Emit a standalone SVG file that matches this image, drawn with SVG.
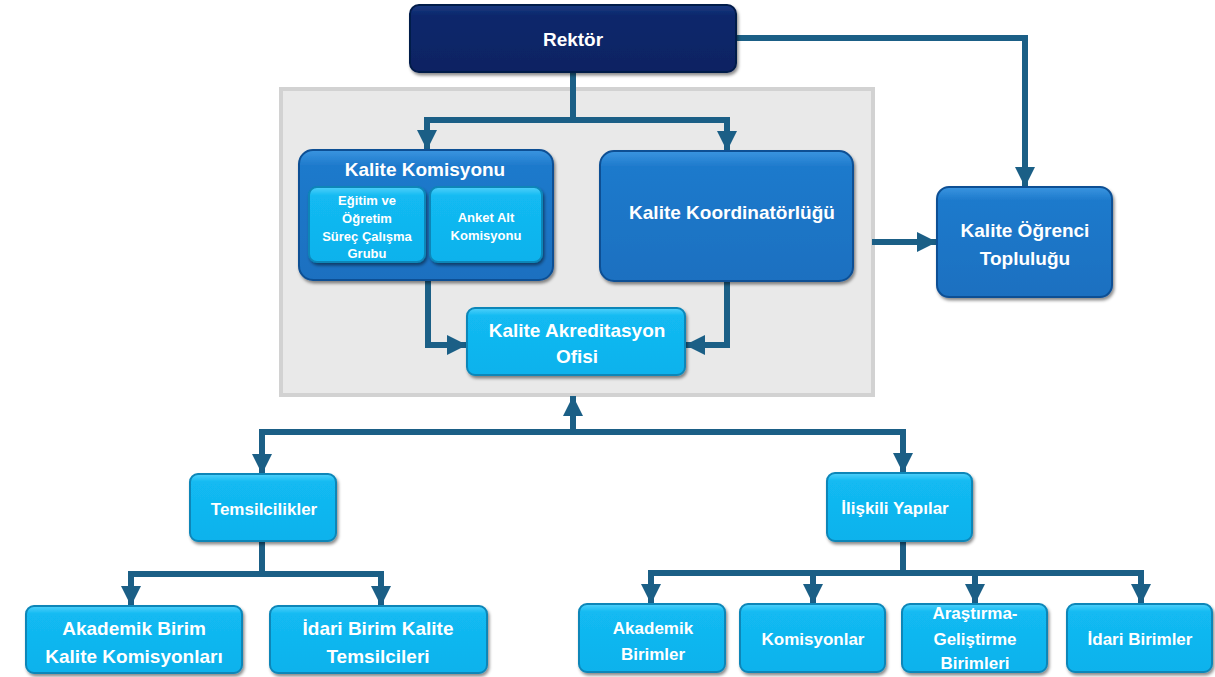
<svg xmlns="http://www.w3.org/2000/svg" width="1215" height="677" viewBox="0 0 1215 677">
<style>
text{font-family:"Liberation Sans",Arial,sans-serif;font-weight:bold;fill:#fff;text-anchor:middle}
.conn{fill:none;stroke:#1b5f86;stroke-width:6;stroke-linejoin:miter}
.navy{fill:url(#gNavy);stroke:#061a4a;stroke-width:2}
.mid{fill:url(#gMid);stroke:#0d4f94;stroke-width:2}
.cyan{fill:url(#gCyan);stroke:#0a86b8;stroke-width:2}
</style>
<defs>
<linearGradient id="gNavy" x1="0" y1="0" x2="0" y2="1"><stop offset="0" stop-color="#1a3a82"/><stop offset="0.15" stop-color="#0c286c"/><stop offset="1" stop-color="#0a2362"/></linearGradient>
<linearGradient id="gMid" x1="0" y1="0" x2="0" y2="1"><stop offset="0" stop-color="#3a95e0"/><stop offset="0.12" stop-color="#1e7acc"/><stop offset="1" stop-color="#1a70c0"/></linearGradient>
<linearGradient id="gCyan" x1="0" y1="0" x2="0" y2="1"><stop offset="0" stop-color="#4fd0fa"/><stop offset="0.12" stop-color="#12baf2"/><stop offset="1" stop-color="#0fb2ec"/></linearGradient>
<filter id="sh" x="-10%" y="-10%" width="125%" height="130%"><feDropShadow dx="1.5" dy="2.5" stdDeviation="1.5" flood-color="#000" flood-opacity="0.45"/></filter>
<marker id="ah" viewBox="0 0 10 10" refX="10" refY="5" markerWidth="20" markerHeight="22" markerUnits="userSpaceOnUse" orient="auto"><path d="M0,0 L10,5 L0,10 z" fill="#1b5f86"/></marker>
</defs>
<rect width="1215" height="677" fill="#fff"/>
<rect id="panel" x="281" y="89" width="592" height="306" fill="#e9e9e9" stroke="#d2d2d2" stroke-width="4"/>
<g id="connectors">
<path class="conn" d="M573,72 V120"/>
<path class="conn" d="M427,120 H727"/>
<path class="conn" d="M427,117 V150" marker-end="url(#ah)"/>
<path class="conn" d="M727,117 V151" marker-end="url(#ah)"/>
<path class="conn" d="M428,280 V345 H467" marker-end="url(#ah)"/>
<path class="conn" d="M727,281 V345 H685" marker-end="url(#ah)"/>
<path class="conn" d="M736,38 H1025 V187" marker-end="url(#ah)"/>
<path class="conn" d="M872,242 H937" marker-end="url(#ah)"/>
<path class="conn" d="M573,432 V396" marker-end="url(#ah)"/>
<path class="conn" d="M262,432 H903"/>
<path class="conn" d="M262,429 V474" marker-end="url(#ah)"/>
<path class="conn" d="M903,429 V473" marker-end="url(#ah)"/>
<path class="conn" d="M262,541 V574"/>
<path class="conn" d="M131,574 H381"/>
<path class="conn" d="M131,571 V606" marker-end="url(#ah)"/>
<path class="conn" d="M381,571 V606" marker-end="url(#ah)"/>
<path class="conn" d="M903,541 V573"/>
<path class="conn" d="M651,573 H1141"/>
<path class="conn" d="M651,570 V604" marker-end="url(#ah)"/>
<path class="conn" d="M813,570 V604" marker-end="url(#ah)"/>
<path class="conn" d="M975,570 V604" marker-end="url(#ah)"/>
<path class="conn" d="M1141,570 V604" marker-end="url(#ah)"/>
</g>
<g id="rektor"><rect class="navy" x="410" y="5" width="326" height="67" rx="9" filter="url(#sh)"/><text x="573" y="46" font-size="19">Rektör</text></g>
<g id="kalite-komisyonu"><rect class="mid" x="299" y="150" width="254" height="130" rx="14" filter="url(#sh)"/><text x="425" y="176" font-size="19">Kalite Komisyonu</text></g>
<g id="egitim"><rect class="cyan" x="309" y="187" width="116" height="75" rx="8" filter="url(#sh)"/><text font-size="13"><tspan x="367" y="205">Eğitim ve</tspan><tspan x="367" y="223">Öğretim</tspan><tspan x="367" y="241">Süreç Çalışma</tspan><tspan x="367" y="258">Grubu</tspan></text></g>
<g id="anket"><rect class="cyan" x="430" y="187" width="112" height="75" rx="8" filter="url(#sh)"/><text font-size="13"><tspan x="486" y="222">Anket Alt</tspan><tspan x="486" y="240">Komisyonu</tspan></text></g>
<g id="koordinatorluk"><rect class="mid" x="600" y="151" width="253" height="130" rx="14" filter="url(#sh)"/><text x="732" y="219" font-size="19">Kalite Koordinatörlüğü</text></g>
<g id="akreditasyon"><rect class="cyan" x="467" y="308" width="218" height="67" rx="8" filter="url(#sh)"/><text font-size="19"><tspan x="577" y="337">Kalite Akreditasyon</tspan><tspan x="577" y="363">Ofisi</tspan></text></g>
<g id="ogrenci"><rect class="mid" x="937" y="187" width="175" height="110" rx="12" filter="url(#sh)"/><text font-size="19"><tspan x="1025" y="237">Kalite Öğrenci</tspan><tspan x="1025" y="265">Topluluğu</tspan></text></g>
<g id="temsilcilikler"><rect class="cyan" x="190" y="474" width="146" height="67" rx="8" filter="url(#sh)"/><text x="264" y="515" font-size="17">Temsilcilikler</text></g>
<g id="iliskili"><rect class="cyan" x="827" y="473" width="145" height="68" rx="8" filter="url(#sh)"/><text x="895" y="514" font-size="17">İlişkili Yapılar</text></g>
<g id="akademik-birim-kalite"><rect class="cyan" x="26" y="606" width="216" height="67" rx="8" filter="url(#sh)"/><text font-size="19"><tspan x="134" y="635">Akademik Birim</tspan><tspan x="134" y="663">Kalite Komisyonları</tspan></text></g>
<g id="idari-birim-kalite"><rect class="cyan" x="270" y="606" width="217" height="67" rx="8" filter="url(#sh)"/><text font-size="19"><tspan x="378" y="635">İdari Birim Kalite</tspan><tspan x="378" y="663">Temsilcileri</tspan></text></g>
<g id="akademik-birimler"><rect class="cyan" x="579" y="604" width="146" height="68" rx="8" filter="url(#sh)"/><text font-size="17"><tspan x="653" y="634">Akademik</tspan><tspan x="653" y="660">Birimler</tspan></text></g>
<g id="komisyonlar"><rect class="cyan" x="740" y="604" width="145" height="68" rx="8" filter="url(#sh)"/><text x="813" y="645" font-size="17">Komisyonlar</text></g>
<g id="arge"><rect class="cyan" x="902" y="604" width="145" height="68" rx="8" filter="url(#sh)"/><text font-size="17"><tspan x="975" y="619">Araştırma-</tspan><tspan x="975" y="645">Geliştirme</tspan><tspan x="975" y="669">Birimleri</tspan></text></g>
<g id="idari-birimler"><rect class="cyan" x="1067" y="604" width="145" height="68" rx="8" filter="url(#sh)"/><text x="1140" y="645" font-size="17">İdari Birimler</text></g>
</svg>
